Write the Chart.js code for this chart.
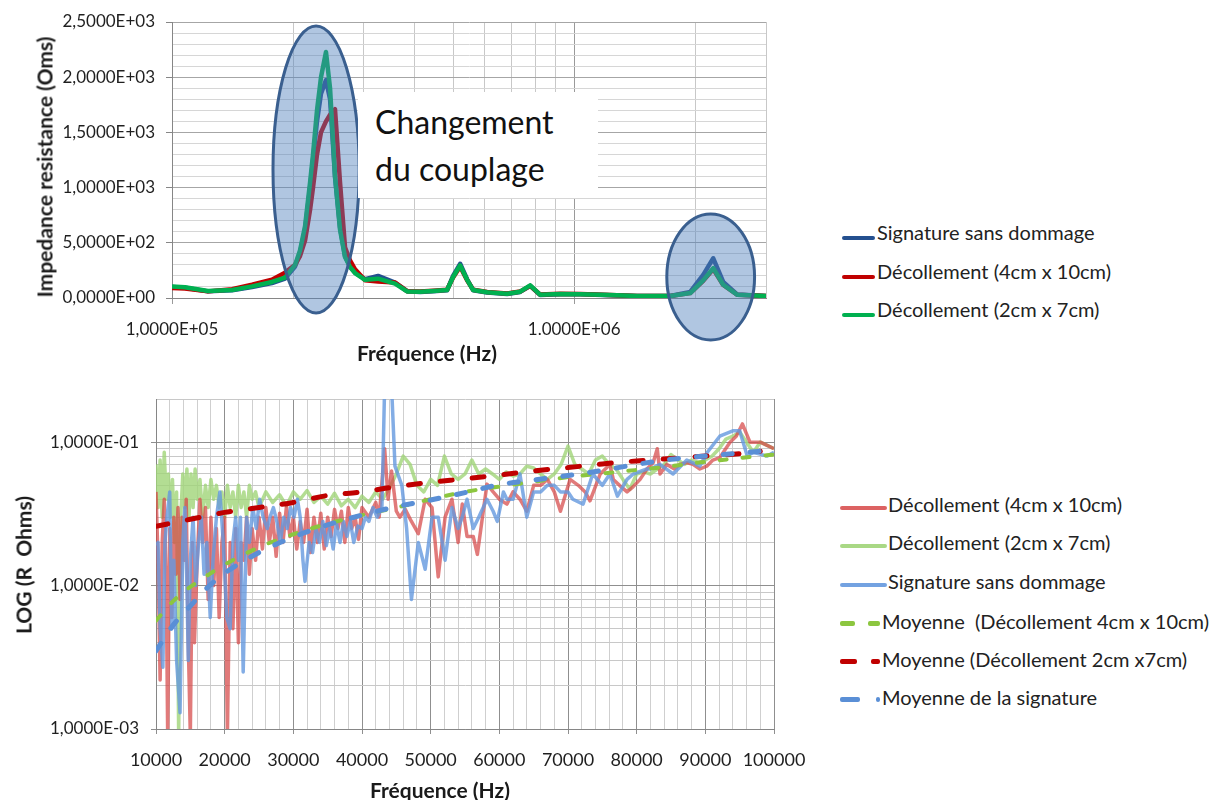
<!DOCTYPE html>
<html><head><meta charset="utf-8">
<script src="https://cdn.jsdelivr.net/npm/chart.js@4/dist/chart.umd.min.js"></script>
<style>
html,body{margin:0;padding:0;background:#fff;}
body{width:1212px;height:800px;position:relative;overflow:hidden;font-family:Lato,"Open Sans",sans-serif;color:#1a1a1a;}
canvas{position:absolute;left:0;}
#c1{top:0;}
#c2{top:370px;}
.ttl{position:absolute;font-weight:bold;font-size:20px;white-space:pre;transform:translate(-50%,-50%);color:#1a1a1a;}
.ttl.rot{transform:translate(-50%,-50%) rotate(-90deg);}
#note{position:absolute;left:358px;top:92px;width:240px;height:106px;background:#fff;}
#note div{position:absolute;left:17px;font-size:32px;line-height:38px;color:#111;white-space:nowrap;}
.lg{position:absolute;font-size:20px;line-height:24px;white-space:pre;color:#222;}
.sw{position:absolute;height:4px;border-radius:2px;}
</style></head><body>
<canvas id="c1" width="800" height="370"></canvas>
<canvas id="c2" width="830" height="430"></canvas>
<div id="note"></div>
<div id="overlay"></div>
<script>
// ---------- TOP CHART DATA ----------
const topFreq = [1.000e5,1.077e5,1.229e5,1.410e5,1.581e5,1.772e5,1.910e5,2.023e5,2.081e5,2.142e5,2.205e5,2.242e5,2.294e5,2.347e5,2.415e5,2.472e5,2.543e5,2.617e5,2.693e5,2.771e5,2.852e5,3.020e5,3.254e5,3.586e5,3.842e5,4.140e5,4.460e5,4.831e5,5.000e5,5.206e5,5.418e5,5.610e5,6.077e5,6.812e5,7.341e5,7.776e5,8.228e5,9.228e5,1.035e6,1.229e6,1.434e6,1.733e6,1.944e6,2.094e6,2.218e6,2.348e6,2.543e6,3.0e6];
const topSignature = [100,92,60,70,100,135,175,285,410,620,1000,1250,1600,1850,1975,1800,1100,640,380,285,230,170,200,140,62,55,60,70,200,310,170,70,50,36,55,110,28,34,33,25,17,18,55,210,360,145,32,18];
const topDecol4x10 = [90,85,60,80,120,165,230,300,380,520,800,1000,1300,1500,1600,1660,1710,1050,460,340,260,160,150,140,62,60,66,75,185,285,160,75,55,40,58,110,32,38,37,28,19,18,44,155,262,118,30,18];
const topDecol2x7 = [104,97,63,72,105,145,185,300,430,650,1050,1300,1700,2000,2228,1900,1100,620,371,281,226,165,175,130,60,57,63,72,190,295,165,72,52,38,57,115,30,36,35,27,18,18,45,160,270,120,30,18];
const topXGrid = [1e5,2e5,3e5,4e5,5e5,6e5,7e5,8e5,9e5,1e6,2e6,3e6];
const topXTickLabels = ['1,0000E+05','','','','','','','','','1.0000E+06','',''];
const topYTickLabels = ['0,0000E+00','5,0000E+02','1,0000E+03','1,5000E+03','2,0000E+03','2,5000E+03'];
const topLegendLabels = ['Signature sans dommage','Décollement (4cm x 10cm)','Décollement (2cm x 7cm)'];
const topColors = ['#24508f','#c00000','#00b050'];
// highlighted regions (frequency range, impedance range)
const highlightFreq = [[1.783e5,2.92e5],[1.70e6,2.81e6]];
const highlightImp = [[2464,-136],[761,-380]];
const noteLines = ['Changement','du couplage'];

// ---------- BOTTOM CHART DATA ----------
const botRedF = [10000,10300,10600,10900,11200,11500,11700,12000,12300,12600,12900,13200,13500,13800,14100,14400,14700,15000,15300,15600,16000,16400,16800,17200,17600,18000,18400,18800,19200,19600,20000,20400,20800,21200,21600,22000,22400,22800,23200,23600,24000,24500,25000,25500,26000,26500,27000,27500,28000,28500,29000,29500,30000,30500,31000,31500,32000,32500,33000,33500,34000,34500,35000,35500,36000,36500,37000,37500,38000,38500,39000,39500,40000,41000,42000,42500,43300,43800,44300,45000,45500,46300,47200,48200,49200,50200,51100,52100,53100,54000,54600,55300,56200,56800,58200,59100,60000,61100,62000,63000,64000,65000,66000,67000,68000,68900,70300,71500,72500,73200,74700,76100,76600,77500,78600,79500,80500,81500,82400,83000,83400,84400,85500,86300,87300,88200,89200,90200,91100,92100,93600,94500,95400,96500,98000,99000,100000];
const botRedV = [0.045,0.015,0.0022,0.02,0.04,0.01,0.0009,0.025,0.006,0.03,0.012,0.035,0.008,0.03,0.015,0.04,0.004,0.0009,0.02,0.004,0.015,0.04,0.02,0.035,0.008,0.03,0.01,0.025,0.006,0.02,0.03,0.0009,0.02,0.005,0.025,0.004,0.02,0.015,0.03,0.012,0.025,0.015,0.03,0.018,0.035,0.02,0.03,0.016,0.032,0.02,0.036,0.022,0.03,0.018,0.028,0.02,0.034,0.017,0.03,0.02,0.032,0.018,0.03,0.022,0.034,0.025,0.033,0.02,0.035,0.025,0.03,0.021,0.035,0.03,0.038,0.03,0.09,0.04,0.063,0.033,0.03,0.034,0.028,0.023,0.04,0.035,0.0115,0.03,0.04,0.02,0.037,0.022,0.022,0.0165,0.051,0.045,0.04,0.037,0.045,0.04,0.033,0.05,0.05,0.055,0.045,0.033,0.055,0.05,0.045,0.039,0.06,0.07,0.055,0.05,0.045,0.049,0.055,0.065,0.072,0.09,0.06,0.07,0.065,0.07,0.072,0.07,0.065,0.068,0.075,0.078,0.1,0.11,0.134,0.1,0.1,0.095,0.09];
const botGreenF = [10000,10300,10600,10900,11200,11500,11800,12100,12400,12700,13000,13300,13600,13900,14200,14500,14800,15100,15400,15700,16000,16400,16800,17200,17600,18000,18400,18800,19200,19600,20000,20400,20800,21200,21600,22000,22400,22800,23200,23600,24000,24500,25000,26000,27000,28000,29000,30000,31000,32000,33000,34000,35000,36000,37000,38000,39000,40000,41000,42000,43000,44000,45000,46000,47000,48000,49000,50000,51000,52000,53000,54000,55000,56000,57000,58000,59000,60000,61000,62000,63000,64000,65000,66000,67000,68000,69000,70000,71000,72000,73000,74000,75000,76000,77000,78000,79000,80000,81000,82000,83000,84000,85000,86000,87000,88000,89000,90000,91000,92000,93000,94000,95000,96000,97000,98000,99000,100000];
const botGreenV = [0.07,0.035,0.075,0.03,0.085,0.04,0.06,0.03,0.055,0.02,0.045,0.0009,0.03,0.06,0.035,0.065,0.03,0.06,0.035,0.065,0.04,0.055,0.03,0.05,0.035,0.055,0.04,0.05,0.035,0.045,0.03,0.05,0.035,0.045,0.03,0.05,0.035,0.045,0.03,0.05,0.04,0.045,0.035,0.045,0.038,0.043,0.036,0.045,0.04,0.046,0.038,0.042,0.037,0.044,0.036,0.04,0.035,0.042,0.038,0.045,0.04,0.048,0.06,0.08,0.07,0.05,0.045,0.055,0.05,0.08,0.06,0.055,0.06,0.075,0.06,0.065,0.06,0.055,0.062,0.058,0.06,0.068,0.066,0.06,0.055,0.06,0.07,0.094,0.07,0.065,0.06,0.075,0.08,0.07,0.065,0.055,0.047,0.06,0.062,0.06,0.065,0.07,0.082,0.075,0.07,0.075,0.072,0.075,0.08,0.09,0.105,0.11,0.118,0.1,0.085,0.1,0.095,0.09];
const botBlueF = [10000,10300,10600,11000,11300,11600,12000,12300,12600,13000,13500,13900,14200,14500,14700,15000,15400,15800,16200,16600,17000,17400,17900,18300,18800,19300,19800,20300,20800,21200,21600,22000,22300,22700,23200,23600,24100,24600,25100,25600,26200,26600,27100,27600,28100,28600,29100,29600,30100,30600,31000,31400,31700,32300,32800,33300,33800,34300,34800,35300,35800,36300,36800,37300,37800,38300,38800,39400,40000,40500,41000,41600,42200,42900,43300,44300,44800,45800,46500,47200,48200,49200,50200,51100,52100,53100,54000,54600,55300,56200,57000,58200,59100,59700,60600,61100,62000,63000,64000,65000,66000,67000,68000,68900,70000,70700,72200,73600,75000,76100,77200,78600,79500,81500,82000,83400,85300,87300,89200,90300,92100,94000,95000,96100,97000,99000,100000];
const botBlueV = [0.019,0.02,0.005,0.0027,0.02,0.03,0.045,0.005,0.015,0.003,0.0013,0.02,0.035,0.01,0.003,0.015,0.03,0.01,0.02,0.03,0.012,0.02,0.006,0.015,0.03,0.045,0.02,0.006,0.005,0.02,0.03,0.015,0.03,0.0025,0.03,0.02,0.035,0.025,0.04,0.03,0.025,0.03,0.035,0.028,0.02,0.03,0.025,0.035,0.03,0.04,0.03,0.015,0.0107,0.02,0.017,0.025,0.02,0.028,0.019,0.025,0.018,0.027,0.02,0.028,0.022,0.028,0.02,0.026,0.025,0.03,0.028,0.035,0.03,0.035,0.25,0.25,0.068,0.05,0.025,0.008,0.02,0.013,0.03,0.03,0.015,0.035,0.025,0.03,0.04,0.025,0.03,0.04,0.033,0.028,0.045,0.04,0.04,0.06,0.03,0.045,0.045,0.05,0.05,0.045,0.045,0.04,0.037,0.06,0.05,0.06,0.042,0.055,0.06,0.065,0.065,0.07,0.06,0.075,0.068,0.085,0.11,0.12,0.12,0.08,0.085,0.08,0.085];
const trendGreenF = [10000,12500,15000,17500,20000,25000,30000,35000,40000,45000,50000,55000,60000,65000,70000,75000,80000,85000,90000,95000,100000];
const trendGreenV = [0.0057,0.0078,0.0098,0.0118,0.014,0.0185,0.0228,0.027,0.031,0.035,0.04,0.045,0.049,0.053,0.057,0.0605,0.064,0.068,0.073,0.0775,0.082];
const trendRedF = [10000,15000,20000,25000,30000,35000,40000,45000,50000,55000,60000,65000,70000,75000,80000,85000,90000,95000,98000];
const trendRedV = [0.0259,0.029,0.0324,0.035,0.038,0.0425,0.045,0.049,0.0525,0.0555,0.059,0.063,0.0665,0.0705,0.074,0.077,0.080,0.083,0.0865];
const trendBlueF = [10000,12500,15000,17500,20000,25000,30000,35000,40000,45000,50000,55000,60000,65000,70000,75000,80000,85000,90000,95000,98000];
const trendBlueV = [0.0035,0.0053,0.0072,0.0097,0.0122,0.017,0.0218,0.0265,0.031,0.0355,0.0395,0.0445,0.0505,0.0545,0.0585,0.0635,0.07,0.076,0.08,0.084,0.0865];
const botXTickLabels = ['10000','20000','30000','40000','50000','60000','70000','80000','90000','100000'];
const botYTickLabels = ['1,0000E-03','1,0000E-02','1,0000E-01'];
const botYGrid = [0.001,0.002,0.003,0.004,0.005,0.006,0.007,0.008,0.009,0.01,0.02,0.03,0.04,0.05,0.06,0.07,0.08,0.09,0.1,0.2];
const botLegendLabels = ['Décollement (4cm x 10cm)','Décollement (2cm x 7cm)','Signature sans dommage','Moyenne  (Décollement 4cm x 10cm)','Moyenne (Décollement 2cm x7cm)','Moyenne de la signature'];

// ---------- helpers ----------
const pts = (xs, ys) => xs.map((x, i) => ({x, y: ys[i]}));
const isDecade = v => Math.abs(Math.log10(v) - Math.round(Math.log10(v))) < 1e-6;
Chart.defaults.font.family = 'Lato';
Chart.defaults.color = '#1f1f1f';

const highlightPlugin = {
  id: 'highlight',
  afterDatasetsDraw(chart) {
    const {ctx, scales: {x, y}} = chart;
    ctx.save();
    highlightFreq.forEach((fr, i) => {
      const x1 = x.getPixelForValue(fr[0]), x2 = x.getPixelForValue(fr[1]);
      const y1 = y.getPixelForValue(highlightImp[i][0]), y2 = y.getPixelForValue(highlightImp[i][1]);
      ctx.beginPath();
      ctx.ellipse((x1 + x2) / 2, (y1 + y2) / 2, (x2 - x1) / 2, Math.abs(y2 - y1) / 2, 0, 0, Math.PI * 2);
      ctx.fillStyle = 'rgba(79,129,189,0.45)';
      ctx.fill();
      ctx.lineWidth = 3;
      ctx.strokeStyle = '#3a5f8f';
      ctx.stroke();
    });
    ctx.restore();
  }
};

const common = {
  responsive: false, animation: false, devicePixelRatio: 1, events: [],
  plugins: {legend: {display: false}, tooltip: {enabled: false}},
  elements: {point: {radius: 0}, line: {tension: 0, borderJoinStyle: 'round'}}
};

// ---------- TOP CHART ----------
new Chart(document.getElementById('c1'), {
  type: 'line',
  data: {datasets: [
    {label: topLegendLabels[2], data: pts(topFreq, topDecol2x7), borderColor: topColors[2], borderWidth: 4.5, order: 0},
    {label: topLegendLabels[1], data: pts(topFreq, topDecol4x10), borderColor: topColors[1], borderWidth: 4.5, order: 1},
    {label: topLegendLabels[0], data: pts(topFreq, topSignature), borderColor: topColors[0], borderWidth: 4.5, order: 2}
  ]},
  options: Object.assign({}, common, {
    layout: {padding: {left: 0, top: 22, right: 34, bottom: 0}},
    scales: {
      x: {
        type: 'logarithmic', min: 1e5, max: 3e6,
        afterBuildTicks: s => { s.ticks = topXGrid.map(value => ({value})); },
        afterFit: s => { s.height = 72; },
        ticks: {autoSkip: false, maxRotation: 0, minRotation: 0, padding: 15, font: {size: 17},
          callback: (v, i) => topXTickLabels[i]},
        grid: {color: c => isDecade(c.tick.value) ? '#9a9a9a' : '#c8c8c8', tickLength: 6,
          tickColor: c => isDecade(c.tick.value) ? '#9a9a9a' : 'rgba(0,0,0,0)'},
        border: {color: '#868686'}
      },
      y: {
        type: 'linear', min: 0, max: 2500,
        afterBuildTicks: s => { s.ticks = Array.from({length: 26}, (_, i) => ({value: i * 100})); },
        afterFit: s => { s.width = 172; },
        ticks: {autoSkip: false, padding: 11, font: {size: 17},
          callback: v => (v % 500 === 0 ? topYTickLabels[v / 500] : '')},
        grid: {color: c => c.tick.value % 500 === 0 ? '#a6a6a6' : '#d6d6d6', tickLength: 6,
          tickColor: c => c.tick.value % 500 === 0 ? '#868686' : 'rgba(0,0,0,0)'},
        border: {color: '#868686'}
      }
    }
  }),
  plugins: [highlightPlugin]
});

// ---------- BOTTOM CHART ----------
new Chart(document.getElementById('c2'), {
  type: 'line',
  data: {datasets: [
    {label: botLegendLabels[5], data: pts(trendBlueF, trendBlueV), borderColor: '#5a8fd6', borderWidth: 5, borderDash: [9, 18], borderCapStyle: 'round', cubicInterpolationMode: 'monotone', order: 0},
    {label: botLegendLabels[4], data: pts(trendRedF, trendRedV), borderColor: '#c00000', borderWidth: 5, borderDash: [12, 20], borderCapStyle: 'round', cubicInterpolationMode: 'monotone', order: 1},
    {label: botLegendLabels[3], data: pts(trendGreenF, trendGreenV), borderColor: '#8cc63f', borderWidth: 4, borderDash: [7, 16], borderCapStyle: 'round', cubicInterpolationMode: 'monotone', order: 2},
    {label: botLegendLabels[2], data: pts(botBlueF, botBlueV), borderColor: 'rgba(100,152,222,0.8)', borderWidth: 3.5, order: 3},
    {label: botLegendLabels[0], data: pts(botRedF, botRedV), borderColor: 'rgba(214,70,70,0.72)', borderWidth: 3.5, order: 4},
    {label: botLegendLabels[1], data: pts(botGreenF, botGreenV), borderColor: 'rgba(160,212,120,0.8)', borderWidth: 3.5, order: 5}
  ]},
  options: Object.assign({}, common, {
    layout: {padding: {left: 0, top: 29, right: 56, bottom: 0}},
    scales: {
      x: {
        type: 'linear', min: 10000, max: 100000,
        afterBuildTicks: s => { s.ticks = Array.from({length: 46}, (_, i) => ({value: 10000 + i * 2000})); },
        afterFit: s => { s.height = 71; },
        ticks: {autoSkip: false, maxRotation: 0, minRotation: 0, padding: 15, font: {size: 18},
          callback: v => (v % 10000 === 0 ? botXTickLabels[v / 10000 - 1] : '')},
        grid: {color: c => c.tick.value % 10000 === 0 ? '#8f8f8f' : '#cfcfcf', tickLength: 5,
          tickColor: c => c.tick.value % 10000 === 0 ? '#8f8f8f' : 'rgba(0,0,0,0)'},
        border: {color: '#868686'}
      },
      y: {
        type: 'logarithmic', min: 0.001, max: 0.2,
        afterBuildTicks: s => { s.ticks = botYGrid.map(value => ({value})); },
        afterFit: s => { s.width = 156; },
        ticks: {autoSkip: false, padding: 12, font: {size: 17},
          callback: v => (isDecade(v) ? botYTickLabels[Math.round(Math.log10(v)) + 3] : '')},
        grid: {color: c => isDecade(c.tick.value) ? '#8f8f8f' : '#c8c8c8', tickLength: 5,
          tickColor: c => isDecade(c.tick.value) ? '#8f8f8f' : 'rgba(0,0,0,0)'},
        border: {color: '#868686'}
      }
    }
  })
});

// ---------- HTML text: titles, note, legends ----------
const ov = document.getElementById('overlay');
function addEl(cls, text, css) {
  const d = document.createElement('div');
  d.className = cls; d.textContent = text; Object.assign(d.style, css); ov.appendChild(d); return d;
}
addEl('ttl rot', 'Impedance resistance (Oms)', {left: '44px', top: '167px', fontSize: '21px'});
addEl('ttl', 'Fréquence (Hz)', {left: '427px', top: '352px', fontSize: '21px'});
addEl('ttl rot', 'LOG (R  Ohms)', {left: '23px', top: '565px', fontSize: '21px'});
addEl('ttl', 'Fréquence (Hz)', {left: '440px', top: '789px', fontSize: '21px'});
const note = document.getElementById('note');
noteLines.forEach((t, i) => {
  const d = document.createElement('div'); d.textContent = t; d.style.top = (11 + i * 47) + 'px'; note.appendChild(d);
});
// top legend
const topRowsY = [233, 272, 310];
topLegendLabels.forEach((t, i) => {
  addEl('sw', '', {left: '842px', width: '33px', top: (topRowsY[i] + 3) + 'px', background: topColors[i]});
  addEl('lg', t, {left: '877px', top: (topRowsY[i] - 13) + 'px'});
});
// bottom legend
const botRowsY = [505, 543, 582, 622, 660, 698];
const botSolid = ['rgba(214,70,70,0.85)', 'rgba(160,212,120,0.9)', 'rgba(100,152,222,0.9)'];
botLegendLabels.forEach((t, i) => {
  const y = botRowsY[i];
  if (i < 3) {
    addEl('sw', '', {left: '840px', width: '47px', top: (y + 1) + 'px', background: botSolid[i]});
    addEl('lg', t, {left: '888px', top: (y - 13) + 'px'});
  } else {
    const cols = ['#8cc63f', '#c00000', '#5a8fd6'];
    const segs = [[[840, 15], [868, 12]], [[840, 17], [871, 9]], [[840, 20], [876, 4]]][i - 3];
    segs.forEach(s => addEl('sw', '', {left: s[0] + 'px', width: s[1] + 'px', top: (y - 1) + 'px', height: '5px', background: cols[i - 3]}));
    addEl('lg', t, {left: '882px', top: (y - 13) + 'px'});
  }
});
</script>
</body></html>
